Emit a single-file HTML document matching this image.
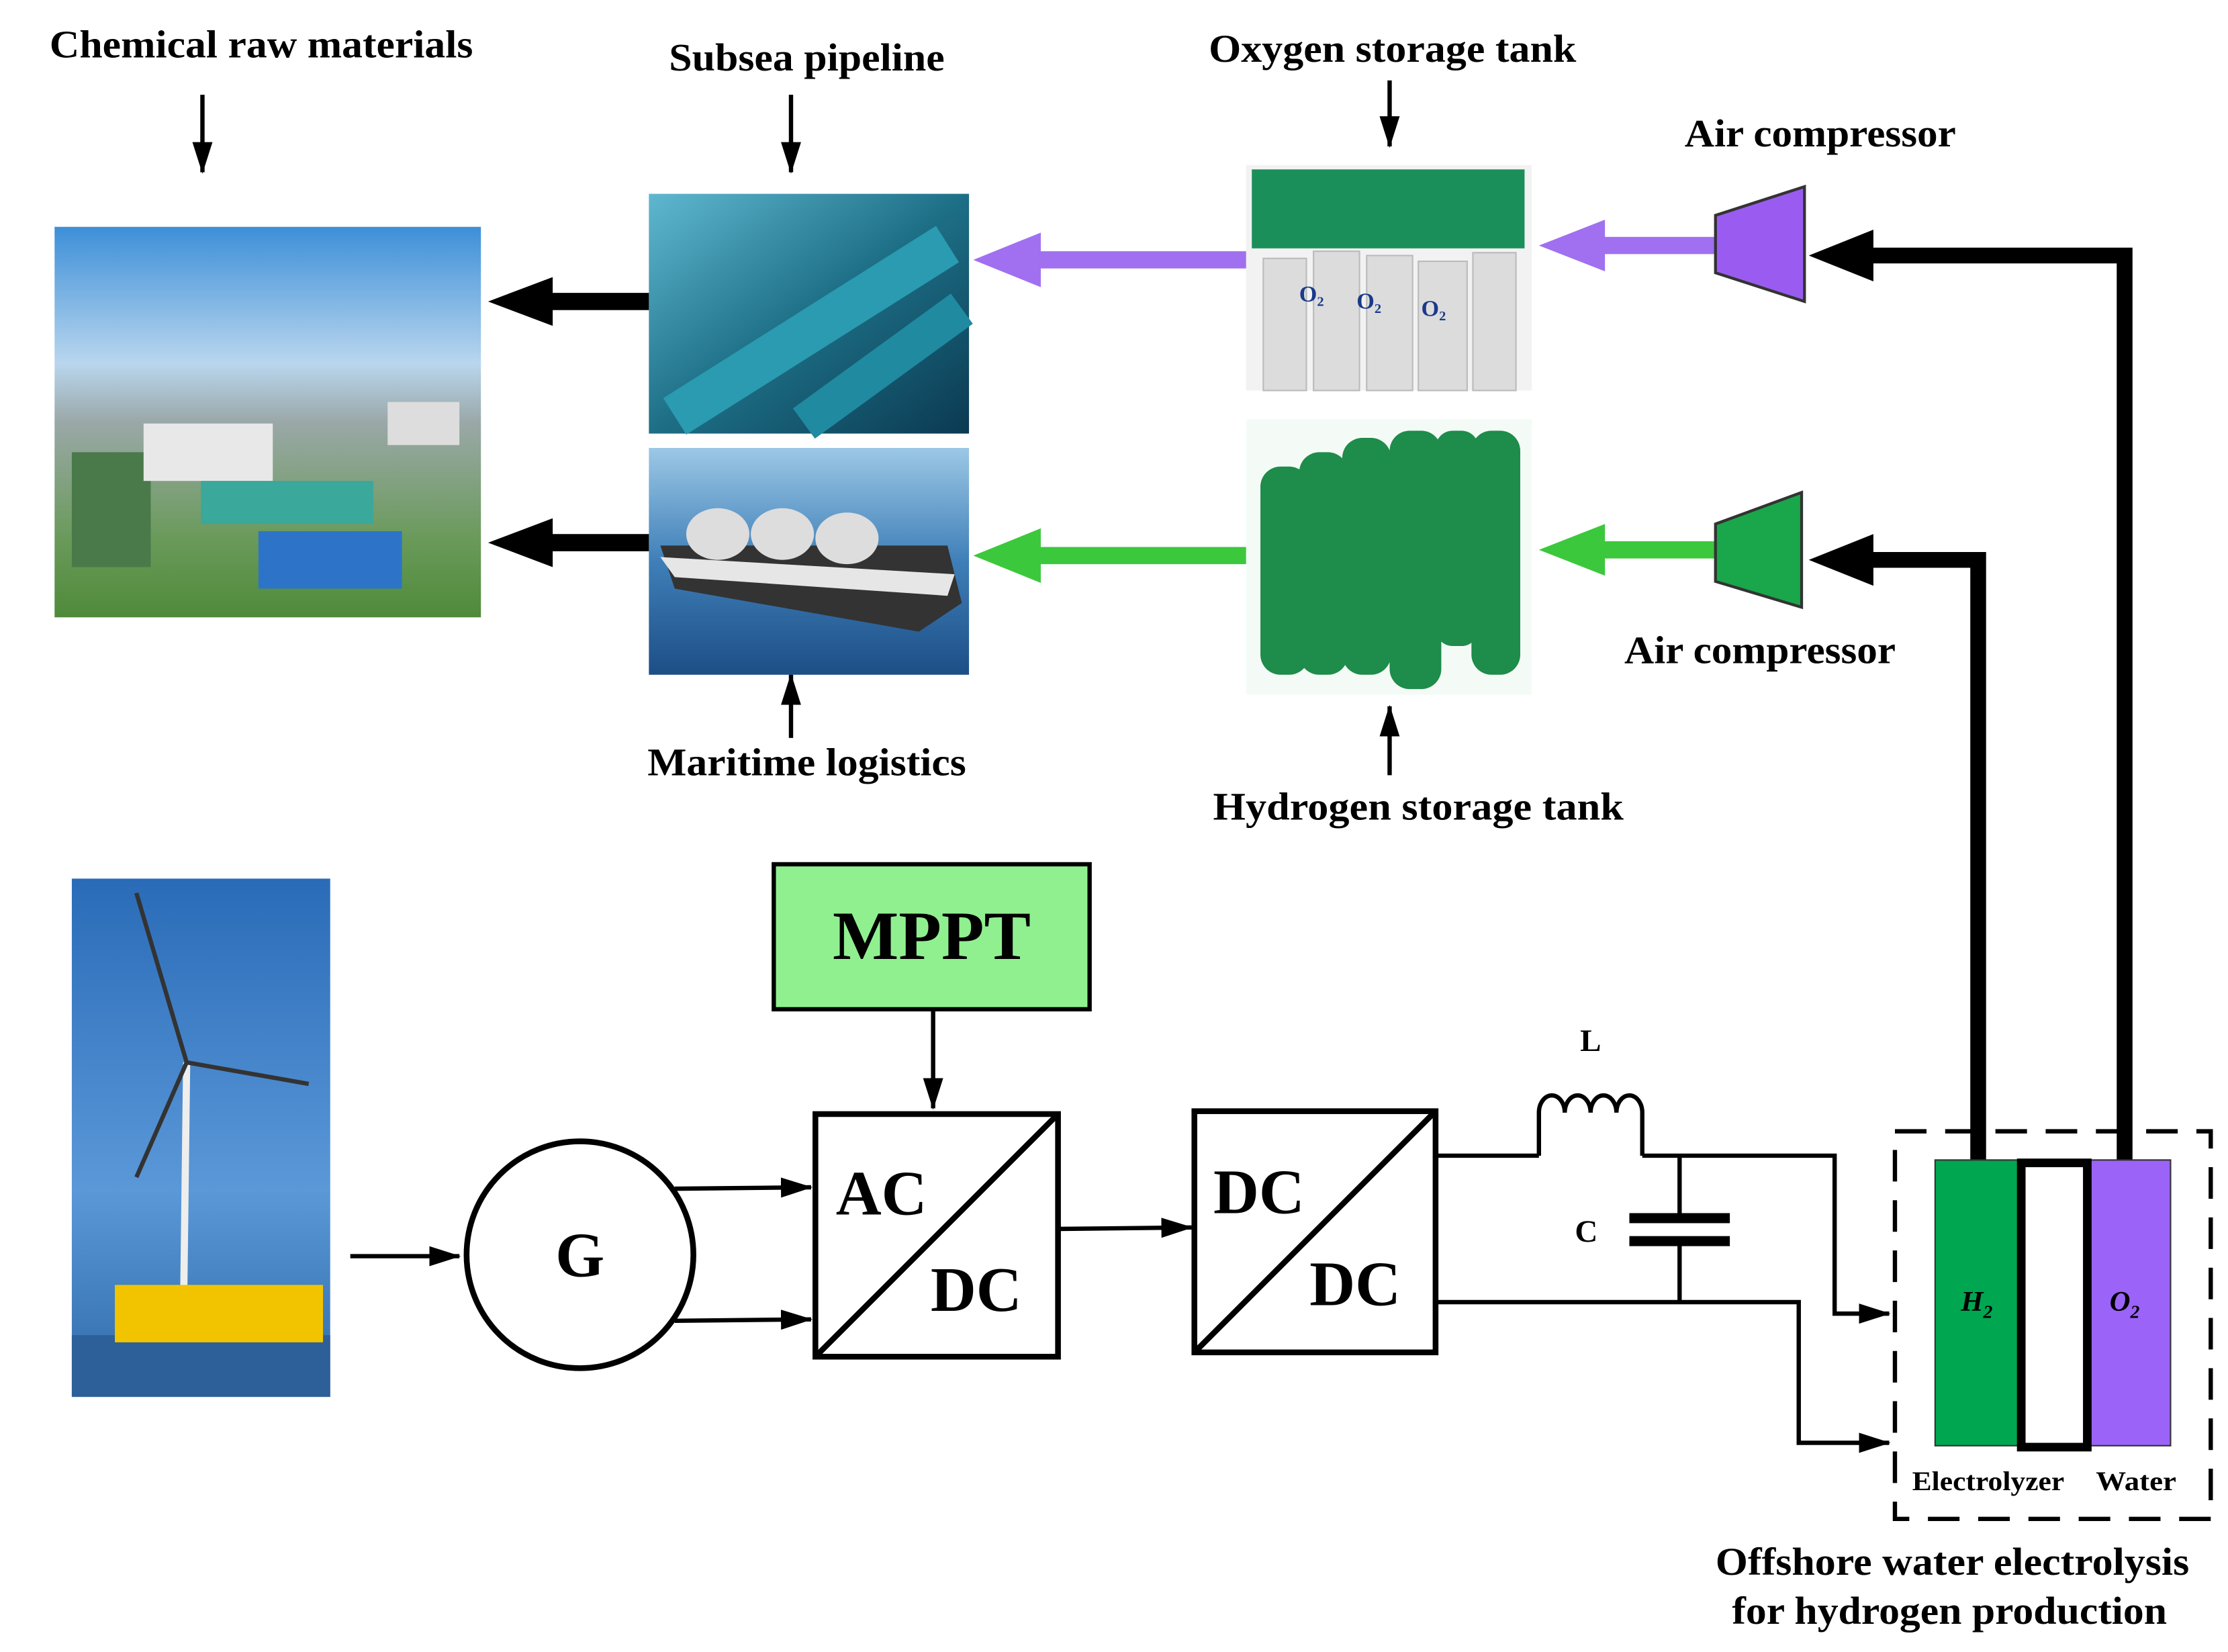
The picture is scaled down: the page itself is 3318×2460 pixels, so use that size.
<!DOCTYPE html>
<html><head><meta charset="utf-8"><style>
html,body{margin:0;padding:0;background:#fff;}
svg{display:block}
text{font-family:"Liberation Serif",serif;font-weight:bold;}
</style></head><body>
<svg width="3318" height="2460" viewBox="0 0 1552 1150.7" xmlns="http://www.w3.org/2000/svg">
<defs>
<linearGradient id="sky" x1="0" y1="0" x2="0" y2="1"><stop offset="0" stop-color="#3d8fd8"/><stop offset="0.35" stop-color="#b9d6ee"/><stop offset="0.5" stop-color="#9aa8a8"/><stop offset="0.8" stop-color="#6a9a5a"/><stop offset="1" stop-color="#4f8a3a"/></linearGradient>
<linearGradient id="sea" x1="0" y1="0" x2="1" y2="1"><stop offset="0" stop-color="#5fb8d0"/><stop offset="0.5" stop-color="#1d6f86"/><stop offset="1" stop-color="#0b3a52"/></linearGradient>
<linearGradient id="ship" x1="0" y1="0" x2="0" y2="1"><stop offset="0" stop-color="#9cc8e6"/><stop offset="0.5" stop-color="#3f7fb8"/><stop offset="1" stop-color="#1d4e86"/></linearGradient>
<linearGradient id="tw" x1="0" y1="0" x2="0" y2="1"><stop offset="0" stop-color="#2a6bb8"/><stop offset="0.6" stop-color="#5a98d8"/><stop offset="1" stop-color="#2f6aa8"/></linearGradient>
<marker id="ah2" markerWidth="22" markerHeight="14" refX="21" refY="7" orient="auto" markerUnits="userSpaceOnUse"><path d="M0,0 L22,7 L0,14 z" fill="#000"/></marker>
</defs>
<rect width="1552" height="1150.7" fill="#fff"/>

<text x="182" y="40" font-size="27" text-anchor="middle" textLength="295" lengthAdjust="spacingAndGlyphs">Chemical raw materials</text>
<text x="562" y="49" font-size="27" text-anchor="middle" textLength="192" lengthAdjust="spacingAndGlyphs">Subsea pipeline</text>
<text x="970" y="43" font-size="27" text-anchor="middle" textLength="256" lengthAdjust="spacingAndGlyphs">Oxygen storage tank</text>
<text x="1268" y="102" font-size="27" text-anchor="middle" textLength="189" lengthAdjust="spacingAndGlyphs">Air compressor</text>
<text x="1226" y="462" font-size="27" text-anchor="middle" textLength="189" lengthAdjust="spacingAndGlyphs">Air compressor</text>
<text x="562" y="540" font-size="27" text-anchor="middle" textLength="222" lengthAdjust="spacingAndGlyphs">Maritime logistics</text>
<text x="988" y="571" font-size="27" text-anchor="middle" textLength="286" lengthAdjust="spacingAndGlyphs">Hydrogen storage tank</text>

<g stroke="#000" stroke-width="3" fill="none">
<line x1="141" y1="66" x2="141" y2="120" marker-end="url(#ah2)"/>
<line x1="551" y1="66" x2="551" y2="120" marker-end="url(#ah2)"/>
<line x1="968" y1="56" x2="968" y2="102" marker-end="url(#ah2)"/>
<line x1="551" y1="514" x2="551" y2="470" marker-end="url(#ah2)"/>
<line x1="968" y1="540" x2="968" y2="492" marker-end="url(#ah2)"/>
</g>

<rect x="38" y="158" width="297" height="272" fill="url(#sky)"/>
<rect x="50" y="315" width="55" height="80" fill="#4a7a4a"/>
<rect x="100" y="295" width="90" height="40" fill="#e8e8e8"/>
<rect x="180" y="370" width="100" height="40" fill="#2d74c8"/>
<rect x="140" y="335" width="120" height="30" fill="#3aa89a"/>
<rect x="270" y="280" width="50" height="30" fill="#ddd"/>

<rect x="452" y="135" width="223" height="167" fill="url(#sea)"/>
<path d="M470,290 L660,170" stroke="#2a9bb0" stroke-width="30"/>
<path d="M560,295 L670,215" stroke="#1f8aa0" stroke-width="26"/>
<rect x="452" y="312" width="223" height="158" fill="url(#ship)"/>
<path d="M460,380 L660,380 L670,420 L640,440 L470,410 z" fill="#333"/>
<ellipse cx="500" cy="372" rx="22" ry="18" fill="#ddd"/>
<ellipse cx="545" cy="372" rx="22" ry="18" fill="#ddd"/>
<ellipse cx="590" cy="375" rx="22" ry="18" fill="#ddd"/>
<path d="M460,388 L665,400 L660,415 L470,402 z" fill="#e6e6e6"/>

<g stroke="#000" stroke-width="12">
<line x1="452" y1="210" x2="380" y2="210"/>
<line x1="452" y1="378" x2="380" y2="378"/>
</g>
<path d="M340,210 L385,193 L385,227 z"/>
<path d="M340,378 L385,361 L385,395 z"/>

<rect x="868" y="115" width="199" height="157" fill="#f2f2f2"/>
<rect x="872" y="118" width="190" height="55" fill="#1b8f5a"/>
<g fill="#dcdcdc" stroke="#bbb">
<rect x="880" y="180" width="30" height="92"/><rect x="915" y="175" width="32" height="97"/><rect x="952" y="178" width="32" height="94"/><rect x="988" y="182" width="34" height="90"/><rect x="1026" y="176" width="30" height="96"/>
</g>
<g font-size="16" fill="#1a3a8a"><text x="905" y="210">O₂</text><text x="945" y="215">O₂</text><text x="990" y="220">O₂</text></g>

<rect x="868" y="292" width="199" height="192" fill="#f4fbf6"/>
<g fill="#1e8c4a">
<rect x="878" y="325" width="34" height="145" rx="14"/><rect x="905" y="315" width="34" height="155" rx="14"/><rect x="935" y="305" width="34" height="165" rx="14"/><rect x="968" y="300" width="36" height="180" rx="14"/><rect x="1000" y="300" width="30" height="150" rx="12"/><rect x="1025" y="300" width="34" height="170" rx="14"/>
</g>

<line x1="868" y1="181" x2="720" y2="181" stroke="#a070f0" stroke-width="12"/>
<path d="M678,181 L725,162 L725,200 z" fill="#a070f0"/>
<line x1="868" y1="387" x2="720" y2="387" stroke="#3cc83c" stroke-width="12"/>
<path d="M678,387 L725,368 L725,406 z" fill="#3cc83c"/>
<line x1="1196" y1="171" x2="1110" y2="171" stroke="#a070f0" stroke-width="12"/>
<path d="M1072,171 L1118,153 L1118,189 z" fill="#a070f0"/>
<line x1="1196" y1="383" x2="1110" y2="383" stroke="#3cc83c" stroke-width="12"/>
<path d="M1072,383 L1118,365 L1118,401 z" fill="#3cc83c"/>

<path d="M1195,150 L1257,130 L1257,210 L1195,190 z" fill="#9a5cf0" stroke="#333" stroke-width="2"/>
<path d="M1195,365 L1255,343 L1255,423 L1195,405 z" fill="#1aa64a" stroke="#333" stroke-width="2"/>

<path d="M1480,808 L1480,178 L1300,178" fill="none" stroke="#000" stroke-width="11"/>
<path d="M1260,178 L1305,160 L1305,196 z"/>
<path d="M1378,808 L1378,390 L1300,390" fill="none" stroke="#000" stroke-width="11"/>
<path d="M1260,390 L1305,372 L1305,408 z"/>

<rect x="50" y="612" width="180" height="361" fill="url(#tw)"/>
<rect x="50" y="930" width="180" height="43" fill="#2d5f99"/>
<line x1="130" y1="740" x2="128" y2="900" stroke="#eee" stroke-width="5"/>
<path d="M130,740 L95,622 M130,740 L215,755 M130,740 L95,820" stroke="#333" stroke-width="3"/>
<rect x="80" y="895" width="145" height="40" fill="#f2c400"/>

<g stroke="#000" stroke-width="3" fill="none">
<line x1="244" y1="875" x2="320" y2="875" marker-end="url(#ah2)"/>
<circle cx="404" cy="874" r="79" stroke-width="4"/>
<line x1="470" y1="828" x2="565" y2="827" marker-end="url(#ah2)"/>
<line x1="470" y1="920" x2="565" y2="919" marker-end="url(#ah2)"/>
<rect x="568" y="776" width="169" height="169" stroke-width="4"/>
<line x1="570" y1="943" x2="735" y2="778" stroke-width="4"/>
<line x1="650" y1="703" x2="650" y2="772" marker-end="url(#ah2)"/>
<line x1="737" y1="856" x2="830" y2="855" marker-end="url(#ah2)"/>
<rect x="832" y="774" width="168" height="168" stroke-width="4"/>
<line x1="834" y1="940" x2="998" y2="776" stroke-width="4"/>
<polyline points="1000,805 1072,805"/>
<path d="M1072,805 L1072,775 a9,12 0 0 1 18,0 a9,12 0 0 1 18,0 a9,12 0 0 1 18,0 a9,12 0 0 1 18,0 L1144,805"/>
<polyline points="1144,805 1278,805 1278,915 1316,915" marker-end="url(#ah2)"/>
<line x1="1170" y1="805" x2="1170" y2="848"/>
<line x1="1170" y1="866" x2="1170" y2="907"/>
<polyline points="1000,907 1253,907 1253,1005 1316,1005" marker-end="url(#ah2)"/>
<rect x="1320" y="788" width="220" height="270" stroke-dasharray="22,13" stroke-width="3"/>
</g>
<rect x="1135" y="845" width="70" height="7"/>
<rect x="1135" y="861" width="70" height="7"/>
<text x="1108" y="732" font-size="22" text-anchor="middle">L</text>
<text x="1105" y="865" font-size="22" text-anchor="middle">C</text>
<rect x="539" y="602" width="220" height="101" fill="#90f090" stroke="#000" stroke-width="3"/>
<text x="649" y="668" font-size="48" text-anchor="middle" textLength="138" lengthAdjust="spacingAndGlyphs">MPPT</text>
<text x="404" y="889" font-size="44" text-anchor="middle">G</text>
<text x="614" y="846" font-size="44" text-anchor="middle">AC</text>
<text x="680" y="913" font-size="44" text-anchor="middle">DC</text>
<text x="877" y="845" font-size="44" text-anchor="middle">DC</text>
<text x="944" y="909" font-size="44" text-anchor="middle">DC</text>

<rect x="1348" y="808" width="58" height="199" fill="#00a650" stroke="#333" stroke-width="1"/>
<rect x="1456" y="808" width="56" height="199" fill="#9b63f8" stroke="#333" stroke-width="1"/>
<rect x="1408" y="810" width="46" height="198" fill="#fff" stroke="#000" stroke-width="6"/>
<text x="1377" y="913" font-size="20" font-style="italic" font-weight="normal" text-anchor="middle">H<tspan font-size="13" dy="5">2</tspan></text>
<text x="1480" y="913" font-size="20" font-style="italic" font-weight="normal" text-anchor="middle">O<tspan font-size="13" dy="5">2</tspan></text>
<text x="1385" y="1038" font-size="19" text-anchor="middle" textLength="106" lengthAdjust="spacingAndGlyphs">Electrolyzer</text>
<text x="1488" y="1038" font-size="19" text-anchor="middle" textLength="56" lengthAdjust="spacingAndGlyphs">Water</text>
<text x="1360" y="1097" font-size="27" text-anchor="middle" textLength="330" lengthAdjust="spacingAndGlyphs">Offshore water electrolysis</text>
<text x="1358" y="1131" font-size="27" text-anchor="middle" textLength="303" lengthAdjust="spacingAndGlyphs">for hydrogen production</text>
</svg>
</body></html>
